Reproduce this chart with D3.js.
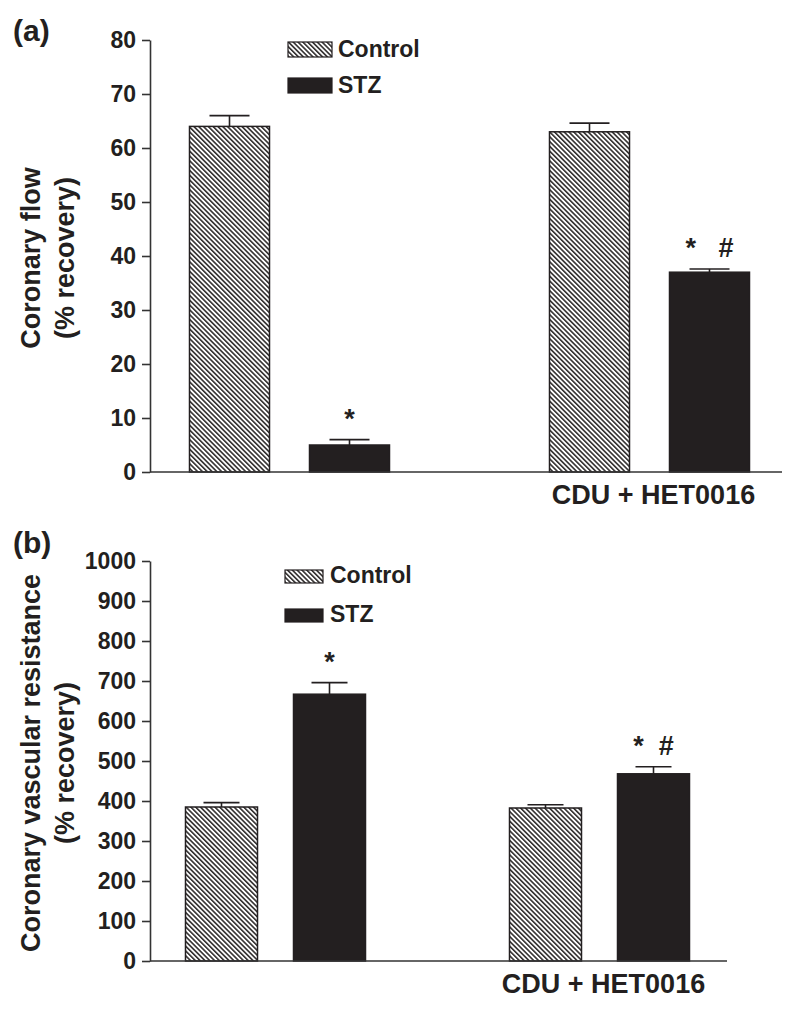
<!DOCTYPE html>
<html>
<head>
<meta charset="utf-8">
<script src="https://cdn.jsdelivr.net/npm/d3@7"></script>
<style>
  html, body { margin: 0; padding: 0; background: #fff; }
  text { font-family: "Liberation Sans", Arial, Helvetica, sans-serif; font-weight: bold; fill: #231f20; }
</style>
</head>
<body>
<svg id="chart" width="800" height="1009"></svg>
<script>
// ---- data ----
const groups = ["", "CDU + HET0016"];
const series = ["Control", "STZ"];

const flowControl = [64, 63];
const flowControlErr = [2, 1.6];
const flowSTZ = [5, 37];
const flowSTZErr = [1, 0.6];
const flowSTZMarks = ["*", "*\u00a0\u00a0\u00a0#"];
const flowTicks = [0, 10, 20, 30, 40, 50, 60, 70, 80];

const resControl = [385, 382.5];
const resControlErr = [11, 8];
const resSTZ = [667, 468];
const resSTZErr = [29, 17.5];
const resSTZMarks = ["*", "*\u00a0\u00a0#"];
const resTicks = [0, 100, 200, 300, 400, 500, 600, 700, 800, 900, 1000];

const INK = "#231f20";
const svg = d3.select("#chart");

// hatch pattern
const defs = svg.append("defs");
const pat = defs.append("pattern")
  .attr("id", "hatch")
  .attr("patternUnits", "userSpaceOnUse")
  .attr("width", 3.4).attr("height", 10)
  .attr("patternTransform", "rotate(-45)");
pat.append("rect").attr("width", 3.4).attr("height", 10).attr("fill", "#fff");
pat.append("line").attr("x1", 0.8).attr("x2", 0.8).attr("y1", 0).attr("y2", 10)
  .attr("stroke", INK).attr("stroke-width", 1.5);

function panel(o) {
  const g = svg.append("g");
  const y = d3.scaleLinear().domain(o.yDomain).range(o.yRange);
  const x0 = d3.scaleBand().domain(groups).range(o.xRange).paddingInner(0).paddingOuter(0);
  const bw0 = x0.bandwidth();
  const x1 = d3.scaleBand().domain(series).range([bw0 * 2 / 9, bw0 * 7 / 9]).paddingInner(1 / 3).paddingOuter(0);
  const bw = x1.bandwidth();

  // panel label
  g.append("text").attr("x", 13).attr("y", o.labelY).attr("font-size", 30).text(o.label);

  // y axis
  const ax = g.append("g").attr("transform", `translate(${o.axisX},0)`)
    .call(d3.axisLeft(y).tickValues(o.ticks).tickFormat(d3.format("d"))
      .tickSize(8).tickSizeOuter(0).tickPadding(6));
  ax.selectAll("path.domain").attr("stroke", "#333").attr("stroke-width", 1.6);
  ax.selectAll(".tick line").attr("stroke", "#333").attr("stroke-width", 1.6);
  ax.selectAll(".tick text").attr("font-size", 23).attr("fill", INK)
    .attr("font-family", '"Liberation Sans", Arial, sans-serif').attr("font-weight", "bold");

  // y title
  const t = g.append("g").attr("transform", `translate(0,${(o.yRange[0] + o.yRange[1]) / 2 + 2}) rotate(-90)`);
  t.append("text").attr("text-anchor", "middle").attr("y", 40).attr("font-size", 27).text(o.title[0]);
  t.append("text").attr("text-anchor", "middle").attr("y", 74).attr("font-size", 27).text(o.title[1]);

  // bars
  const rows = groups.map((grp, i) => ({
    grp,
    vals: [
      { s: "Control", v: o.control[i], e: o.controlErr[i], m: "" },
      { s: "STZ", v: o.stz[i], e: o.stzErr[i], m: o.marks[i] }
    ]
  }));
  const gg = g.selectAll("g.grp").data(rows).join("g").attr("class", "grp")
    .attr("transform", d => `translate(${x0(d.grp)},0)`);

  const bars = gg.selectAll("g.bar").data(d => d.vals).join("g").attr("class", "bar");
  // error bars (upper only)
  bars.append("line")
    .attr("x1", d => x1(d.s) + bw / 2).attr("x2", d => x1(d.s) + bw / 2)
    .attr("y1", d => y(d.v)).attr("y2", d => y(d.v + d.e))
    .attr("stroke", INK).attr("stroke-width", 1.6);
  bars.append("line")
    .attr("x1", d => x1(d.s) + bw / 4).attr("x2", d => x1(d.s) + bw * 3 / 4)
    .attr("y1", d => y(d.v + d.e)).attr("y2", d => y(d.v + d.e))
    .attr("stroke", INK).attr("stroke-width", 1.6);
  bars.append("rect")
    .attr("x", d => x1(d.s)).attr("width", bw)
    .attr("y", d => y(d.v)).attr("height", d => y(0) - y(d.v))
    .attr("fill", d => d.s === "Control" ? "url(#hatch)" : INK)
    .attr("stroke", INK).attr("stroke-width", 1.5);
  bars.append("text")
    .attr("x", d => x1(d.s) + bw / 2).attr("y", d => y(d.v + d.e) - 12)
    .attr("text-anchor", "middle").attr("font-size", 27)
    .style("white-space", "pre")
    .text(d => d.m);

  // x axis line
  g.append("line").attr("x1", o.axisX).attr("x2", o.axisEnd)
    .attr("y1", y(0)).attr("y2", y(0)).attr("stroke", "#333").attr("stroke-width", 1.6);

  // group labels
  g.selectAll("text.glab").data(groups).join("text").attr("class", "glab")
    .attr("x", d => x0(d) + bw0 / 2 + 4).attr("y", o.groupLabelY)
    .attr("text-anchor", "middle").attr("font-size", 27).text(d => d);

  // legend
  const lg = g.append("g");
  series.forEach((s, i) => {
    lg.append("rect").attr("x", o.legend.x).attr("y", o.legend.y[i])
      .attr("width", o.legend.w).attr("height", o.legend.h)
      .attr("fill", s === "Control" ? "url(#hatch)" : INK)
      .attr("stroke", INK).attr("stroke-width", 1.2);
    lg.append("text").attr("x", o.legend.tx).attr("y", o.legend.y[i] + o.legend.h)
      .attr("font-size", 23).text(s);
  });
}

panel({
  label: "(a)", labelY: 41,
  yDomain: [0, 80], yRange: [472, 40], ticks: flowTicks,
  axisX: 150, axisEnd: 782, xRange: [109.5, 829.5],
  control: flowControl, controlErr: flowControlErr,
  stz: flowSTZ, stzErr: flowSTZErr, marks: flowSTZMarks,
  title: ["Coronary flow", "(% recovery)"],
  groupLabelY: 504,
  legend: { x: 288, w: 44, h: 15, y: [42, 78], tx: 338 }
});

panel({
  label: "(b)", labelY: 553,
  yDomain: [0, 1000], yRange: [961, 561], ticks: resTicks,
  axisX: 150, axisEnd: 727, xRange: [113.5, 761.5],
  control: resControl, controlErr: resControlErr,
  stz: resSTZ, stzErr: resSTZErr, marks: resSTZMarks,
  title: ["Coronary vascular resistance", "(% recovery)"],
  groupLabelY: 993,
  legend: { x: 285, w: 38, h: 13, y: [570, 609], tx: 330 }
});
</script>
</body>
</html>
